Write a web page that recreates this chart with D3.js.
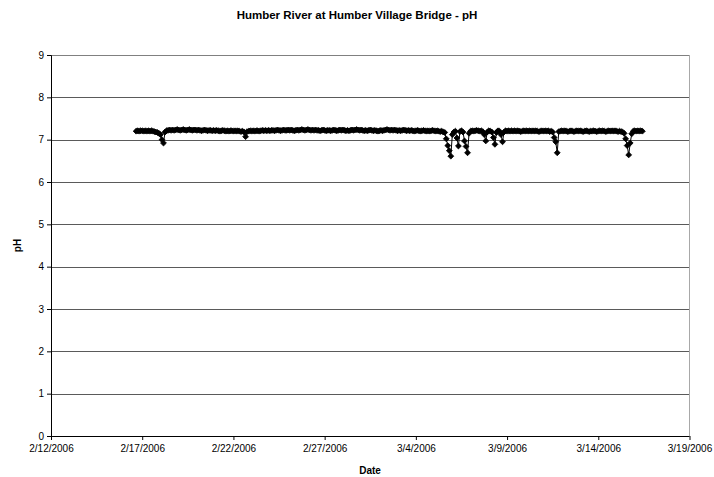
<!DOCTYPE html>
<html>
<head>
<meta charset="utf-8">
<script src="https://cdn.jsdelivr.net/npm/d3@7"></script>
<style>
  html, body { margin: 0; padding: 0; background: #fff; }
  svg { display: block; font-family: "Liberation Sans", Arial, sans-serif; }
</style>
</head>
<body>
<svg id="chart" width="714" height="477"></svg>
<script>
// ---- data ----
const chartTitle = "Humber River at Humber Village Bridge - pH";
const xAxisTitle = "Date";
const yAxisTitle = "pH";
const xTickLabels = ["2/12/2006", "2/17/2006", "2/22/2006", "2/27/2006", "3/4/2006", "3/9/2006", "3/14/2006", "3/19/2006"];
const yTickValues = [0, 1, 2, 3, 4, 5, 6, 7, 8, 9];
const sampleStart = "2/16/2006 16:00";   // first reading
const sampleStepHours = 2;               // reading interval
const phValues = [
  7.20, 7.21, 7.20, 7.21, 7.21, 7.20, 7.21, 7.20, 7.21, 7.20,
  7.21, 7.20, 7.19, 7.18, 7.17, 7.15, 7.12, 7.00, 6.92, 7.18,
  7.21, 7.22, 7.23, 7.22, 7.23, 7.22, 7.23, 7.24, 7.23, 7.22,
  7.23, 7.24, 7.23, 7.22, 7.23, 7.24, 7.23, 7.22, 7.23, 7.23,
  7.22, 7.23, 7.22, 7.21, 7.22, 7.23, 7.22, 7.21, 7.22, 7.22,
  7.21, 7.22, 7.21, 7.22, 7.21, 7.20, 7.21, 7.22, 7.21, 7.20,
  7.21, 7.20, 7.21, 7.21, 7.20, 7.21, 7.20, 7.21, 7.20, 7.19,
  7.20, 7.18, 7.07, 7.19, 7.20, 7.21, 7.20, 7.21, 7.20, 7.21,
  7.21, 7.20, 7.21, 7.22, 7.21, 7.22, 7.21, 7.22, 7.21, 7.22,
  7.22, 7.21, 7.22, 7.23, 7.22, 7.21, 7.22, 7.23, 7.22, 7.22,
  7.23, 7.22, 7.23, 7.22, 7.21, 7.22, 7.23, 7.22, 7.23, 7.24,
  7.23, 7.22, 7.23, 7.24, 7.23, 7.22, 7.23, 7.22, 7.23, 7.22,
  7.22, 7.21, 7.22, 7.23, 7.22, 7.21, 7.22, 7.22, 7.21, 7.22,
  7.23, 7.22, 7.21, 7.22, 7.23, 7.22, 7.23, 7.22, 7.21, 7.22,
  7.21, 7.22, 7.23, 7.22, 7.23, 7.24, 7.23, 7.22, 7.23, 7.22,
  7.21, 7.22, 7.21, 7.22, 7.23, 7.22, 7.21, 7.22, 7.21, 7.20,
  7.21, 7.22, 7.21, 7.22, 7.23, 7.24, 7.23, 7.22, 7.23, 7.22,
  7.23, 7.22, 7.21, 7.22, 7.21, 7.22, 7.23, 7.22, 7.21, 7.22,
  7.21, 7.22, 7.21, 7.20, 7.21, 7.22, 7.21, 7.20, 7.21, 7.22,
  7.21, 7.20, 7.21, 7.20, 7.21, 7.22, 7.21, 7.20, 7.21, 7.20,
  7.19, 7.20, 7.18, 7.17, 7.02, 6.86, 6.74, 6.61, 7.12, 7.18,
  7.20, 7.04, 6.85, 7.19, 7.21, 7.18, 6.97, 6.84, 6.69, 7.15,
  7.20, 7.21, 7.20, 7.21, 7.22, 7.21, 7.20, 7.21, 7.19, 7.12,
  6.97, 7.18, 7.21, 7.20, 7.18, 7.05, 6.89, 7.17, 7.21, 7.20,
  7.12, 6.95, 7.18, 7.21, 7.20, 7.21, 7.20, 7.21, 7.20, 7.21,
  7.20, 7.21, 7.20, 7.19, 7.20, 7.21, 7.20, 7.21, 7.20, 7.21,
  7.20, 7.21, 7.20, 7.21, 7.20, 7.19, 7.20, 7.21, 7.20, 7.21,
  7.20, 7.21, 7.19, 7.20, 7.18, 7.05, 6.95, 6.69, 7.19, 7.20,
  7.21, 7.20, 7.21, 7.20, 7.19, 7.20, 7.21, 7.20, 7.19, 7.20,
  7.21, 7.20, 7.21, 7.20, 7.19, 7.20, 7.21, 7.20, 7.19, 7.20,
  7.20, 7.21, 7.20, 7.19, 7.20, 7.21, 7.20, 7.21, 7.20, 7.19,
  7.20, 7.21, 7.20, 7.21, 7.20, 7.21, 7.20, 7.19, 7.20, 7.19,
  7.18, 7.15, 7.02, 6.86, 6.64, 6.92, 7.14, 7.20, 7.21, 7.20,
  7.21, 7.20, 7.21, 7.20
];

// ---- build table ----
const parseDate = d3.timeParse("%m/%d/%Y");
const parseStamp = d3.timeParse("%m/%d/%Y %H:%M");
const t0 = parseStamp(sampleStart);
const readings = phValues.map((v, i) => ({ t: d3.timeHour.offset(t0, i * sampleStepHours), v }));
const xTicks = xTickLabels.map(parseDate);

// ---- layout ----
const svg = d3.select("#chart");
const plot = { left: 51, right: 689.5, top: 55, bottom: 436 };

const x = d3.scaleTime()
  .domain([xTicks[0], xTicks[xTicks.length - 1]])
  .range([plot.left, plot.right]);
const y = d3.scaleLinear()
  .domain([0, 9])
  .range([plot.bottom, plot.top]);

// gridlines
svg.append("g")
  .selectAll("line")
  .data(yTickValues.filter(d => d > 0 && d < 9))
  .join("line")
  .attr("x1", plot.left).attr("x2", plot.right)
  .attr("y1", d => Math.round(y(d)) + 0.5).attr("y2", d => Math.round(y(d)) + 0.5)
  .attr("stroke", "#5a5a5a").attr("stroke-width", 1);

// plot border top / right
svg.append("line")
  .attr("x1", plot.left).attr("x2", plot.right)
  .attr("y1", plot.top + 0.5).attr("y2", plot.top + 0.5)
  .attr("stroke", "#808080");
svg.append("line")
  .attr("x1", plot.right).attr("x2", plot.right)
  .attr("y1", plot.top).attr("y2", plot.bottom)
  .attr("stroke", "#a8a8a8");

// axes
const yAxis = d3.axisLeft(y).tickValues(yTickValues).tickSize(4).tickPadding(3).tickFormat(d3.format("d"));
const gy = svg.append("g").attr("transform", `translate(${plot.left},0)`).call(yAxis);
const xAxis = d3.axisBottom(x).tickValues(xTicks).tickSize(4).tickPadding(5)
  .tickFormat((d, i) => xTickLabels[i]);
const gx = svg.append("g").attr("transform", `translate(0,${plot.bottom})`).call(xAxis);

[gx, gy].forEach(g => {
  g.select(".domain").attr("stroke", "#000");
  g.selectAll(".tick line").attr("stroke", "#000");
  g.selectAll(".tick text").attr("fill", "#000").style("font-size", "10px")
    .style("font-family", "'Liberation Sans', Arial, sans-serif");
});
gx.select(".domain").attr("d", `M${plot.left},0.5H${plot.right}`);

// series line
const line = d3.line().x(d => x(d.t)).y(d => y(d.v));
svg.append("path")
  .datum(readings)
  .attr("d", line)
  .attr("fill", "none")
  .attr("stroke", "#000")
  .attr("stroke-width", 1);

// diamond markers
const diamond = d3.symbol().type(d3.symbolSquare).size(17);
svg.append("g")
  .selectAll("path")
  .data(readings)
  .join("path")
  .attr("d", diamond)
  .attr("transform", d => `translate(${x(d.t)},${y(d.v)}) rotate(45)`)
  .attr("fill", "#000")
  .attr("stroke", "#000")
  .attr("stroke-width", 0.8);

// titles
svg.append("text")
  .attr("x", 357).attr("y", 19)
  .attr("text-anchor", "middle")
  .style("font-size", "11.5px").style("font-weight", "bold")
  .text(chartTitle);
svg.append("text")
  .attr("x", 370).attr("y", 474)
  .attr("text-anchor", "middle")
  .style("font-size", "10px").style("font-weight", "bold")
  .text(xAxisTitle);
svg.append("text")
  .attr("transform", `translate(21,${(plot.top + plot.bottom) / 2}) rotate(-90)`)
  .attr("text-anchor", "middle")
  .style("font-size", "10px").style("font-weight", "bold")
  .text(yAxisTitle);
</script>
</body>
</html>
